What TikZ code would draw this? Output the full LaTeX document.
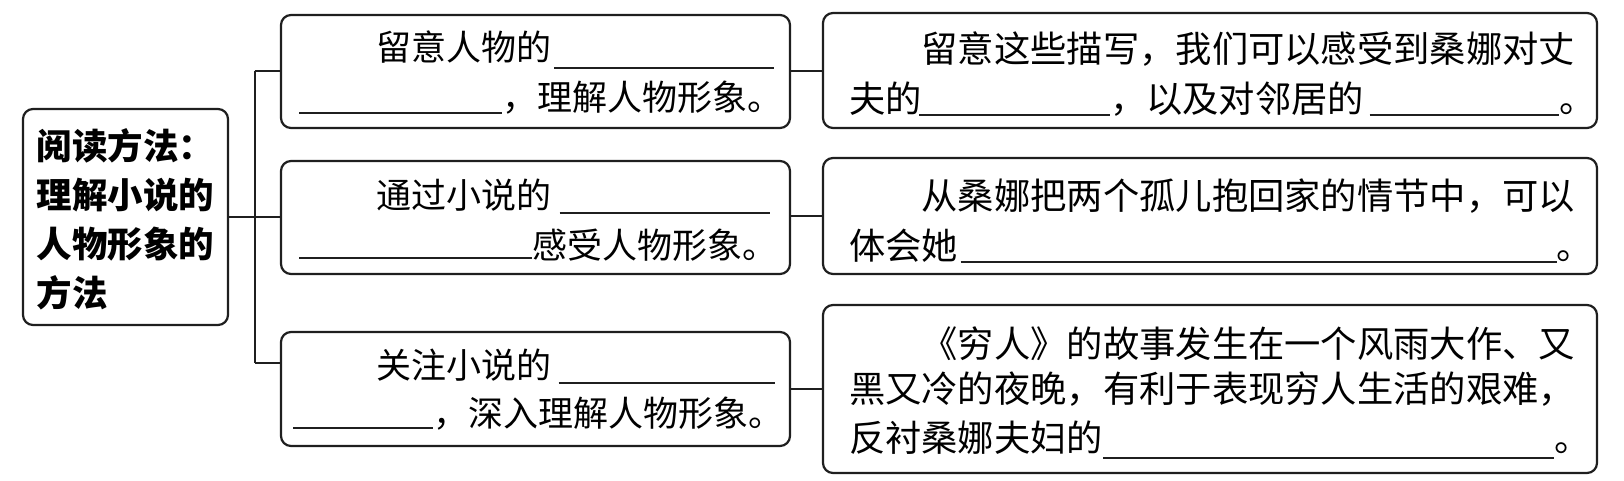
\documentclass[tikz,border=0pt]{standalone}
\usepackage{fontspec}
\newfontfamily\cjk{Noto Sans CJK SC}
\usetikzlibrary{calc}
\begin{document}
\begin{tikzpicture}[x=1pt,y=-1pt,
  box/.style={draw=black!88,line width=2.2pt,rounded corners=10pt,inner sep=0pt,outer sep=0pt},
  conn/.style={draw=black!88,line width=2pt},
  blank/.style={draw=black!88,line width=2pt},
  tm/.style={inner sep=0pt,outer sep=0pt,anchor=base west,font=\cjk\fontsize{35}{40}\selectfont},
  tr/.style={inner sep=0pt,outer sep=0pt,anchor=base west,font=\cjk\fontsize{36.3}{40}\selectfont},
  tl/.style={inner sep=0pt,outer sep=0pt,anchor=base west,font=\cjk\bfseries\fontsize{35.5}{40}\selectfont}]
\useasboundingbox (0,0) rectangle (1624,480);
% boxes
\node[box,minimum width=205pt,minimum height=216pt] (L) at (125.5,217) {};
\node[box,minimum width=509pt,minimum height=113pt] (M1) at (535.5,71.5) {};
\node[box,minimum width=509pt,minimum height=113pt] (M2) at (535.5,217.5) {};
\node[box,minimum width=509pt,minimum height=114pt] (M3) at (535.5,389) {};
\node[box,minimum width=774pt,minimum height=115pt] (R1) at (1210,70.5) {};
\node[box,minimum width=774pt,minimum height=116pt] (R2) at (1210,216) {};
\node[box,minimum width=774pt,minimum height=168pt] (R3) at (1210,389) {};
% connectors
\coordinate (J) at (254.7,217);
\coordinate (b1) at (254.7,71);
\coordinate (b3) at (254.7,362.6);
\draw[conn] (L.east |- J) -- (J);
\draw[conn] (b1) -- (b3);
\draw[conn] (b1) -- (b1 -| M1.west);
\draw[conn] (J) -- (J -| M2.west);
\draw[conn] (b3) -- (b3 -| M3.west);
\draw[conn] (M1.east |- R1.west) -- (R1.west);
\draw[conn] (M2.east |- R2.west) -- (R2.west);
\draw[conn] (M3.east) -- (M3.east -| R3.west);
% left text
\node[tl] (l1) at (36.6,159) {阅读方法：};
\node[tl] (l2) at (36.6,208) {理解小说的};
\node[tl] (l3) at (36.6,257) {人物形象的};
\node[tl] (l4) at (36.6,306) {方法};
% middle 1
\node[tm] (m1a) at (376.6,60) {留意人物的};
\coordinate (u1a) at (554,67.7); \coordinate (u1b) at (774,67.7);
\draw[blank] (u1a) -- (u1b);
\coordinate (u1c) at (299,113); \coordinate (u1d) at (502,113);
\draw[blank] (u1c) -- (u1d);
\node[tm] (m1b) at (502,110) {，理解人物形象。};
% middle 2
\node[tm] (m2a) at (376.6,208) {通过小说的};
\coordinate (u2a) at (559.6,213.3); \coordinate (u2b) at (770,213.3);
\draw[blank] (u2a) -- (u2b);
\coordinate (u2c) at (299,258.3); \coordinate (u2d) at (532.4,258.3);
\draw[blank] (u2c) -- (u2d);
\node[tm] (m2b) at (532.4,258) {感受人物形象。};
% middle 3
\node[tm] (m3a) at (376.6,378) {关注小说的};
\coordinate (u3a) at (558.6,383.3); \coordinate (u3b) at (775,383.3);
\draw[blank] (u3a) -- (u3b);
\coordinate (u3c) at (293,428.3); \coordinate (u3d) at (433,428.3);
\draw[blank] (u3c) -- (u3d);
\node[tm] (m3b) at (433,426) {，深入理解人物形象。};
% right 1
\node[tr] (r1a) at (921.6,62) {留意这些描写，我们可以感受到桑娜对丈};
\node[tr] (r1b) at (849,112) {夫的};
\coordinate (v1a) at (919,115); \coordinate (v1b) at (1110,115);
\draw[blank] (v1a) -- (v1b);
\node[tr] (r1c) at (1110,112) {，以及对邻居的};
\coordinate (v1c) at (1369.7,115); \coordinate (v1d) at (1559,115);
\draw[blank] (v1c) -- (v1d);
\node[tr] (r1d) at (1559,112) {。};
% right 2
\node[tr] (r2a) at (921.6,209) {从桑娜把两个孤儿抱回家的情节中，可以};
\node[tr] (r2b) at (849,259) {体会她};
\coordinate (v2a) at (960.6,261.7); \coordinate (v2b) at (1556.6,261.7);
\draw[blank] (v2a) -- (v2b);
\node[tr] (r2c) at (1556.6,259) {。};
% right 3
\node[tr] (r3a) at (921.6,357) {《穷人》的故事发生在一个风雨大作、又};
\node[tr] (r3b) at (849,402) {黑又冷的夜晚，有利于表现穷人生活的艰难，};
\node[tr] (r3c) at (849,451) {反衬桑娜夫妇的};
\coordinate (v3a) at (1103,458.3); \coordinate (v3b) at (1554,458.3);
\draw[blank] (v3a) -- (v3b);
\node[tr] (r3d) at (1554,451) {。};
\end{tikzpicture}
\end{document}
